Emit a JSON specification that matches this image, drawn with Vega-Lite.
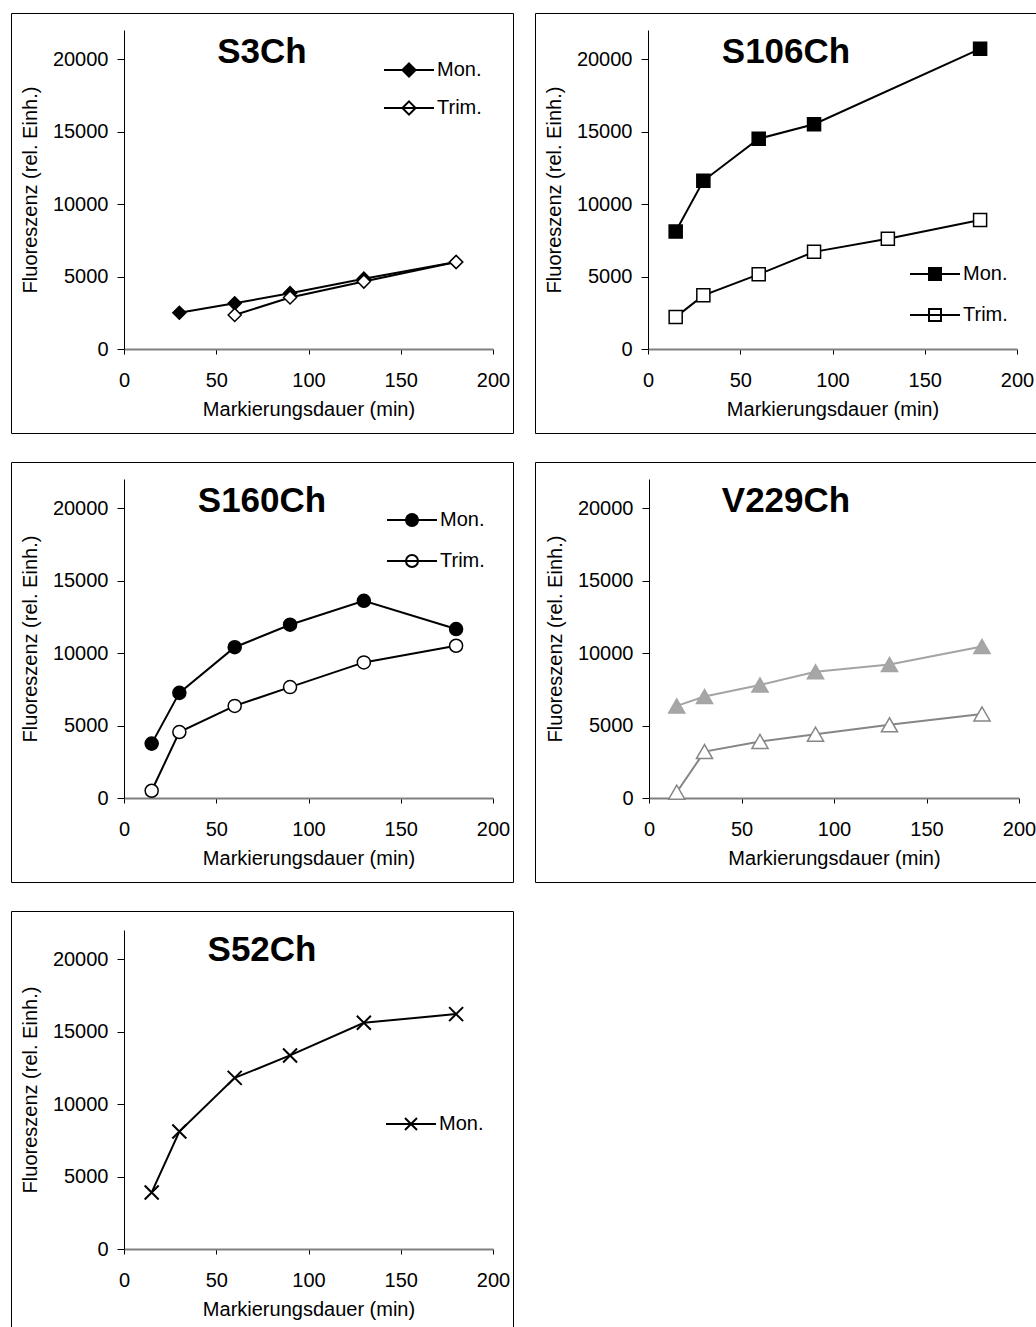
{
  "$schema": "https://vega.github.io/schema/vega-lite/v6.json",
  "background": "white",
  "padding": {"left": 10, "top": 12, "right": 0, "bottom": 0},
  "columns": 2,
  "spacing": {"row": 27, "column": 20},
  "resolve": {
    "scale": {"x": "independent", "y": "independent", "fill": "independent", "stroke": "independent"},
    "legend": {"fill": "independent", "stroke": "independent"}
  },
  "data": {
    "values": [
      {"p": "S3Ch", "s": "Mon.", "t": 30, "f": 2500},
      {"p": "S3Ch", "s": "Mon.", "t": 60, "f": 3150},
      {"p": "S3Ch", "s": "Mon.", "t": 90, "f": 3850},
      {"p": "S3Ch", "s": "Mon.", "t": 130, "f": 4850},
      {"p": "S3Ch", "s": "Mon.", "t": 180, "f": 6000},
      {"p": "S3Ch", "s": "Trim.", "t": 60, "f": 2350},
      {"p": "S3Ch", "s": "Trim.", "t": 90, "f": 3550},
      {"p": "S3Ch", "s": "Trim.", "t": 130, "f": 4650},
      {"p": "S3Ch", "s": "Trim.", "t": 180, "f": 6000},
      {"p": "S106Ch", "s": "Mon.", "t": 15, "f": 8100},
      {"p": "S106Ch", "s": "Mon.", "t": 30, "f": 11600},
      {"p": "S106Ch", "s": "Mon.", "t": 60, "f": 14500},
      {"p": "S106Ch", "s": "Mon.", "t": 90, "f": 15500},
      {"p": "S106Ch", "s": "Mon.", "t": 180, "f": 20700},
      {"p": "S106Ch", "s": "Trim.", "t": 15, "f": 2200},
      {"p": "S106Ch", "s": "Trim.", "t": 30, "f": 3700},
      {"p": "S106Ch", "s": "Trim.", "t": 60, "f": 5150},
      {"p": "S106Ch", "s": "Trim.", "t": 90, "f": 6700},
      {"p": "S106Ch", "s": "Trim.", "t": 130, "f": 7600},
      {"p": "S106Ch", "s": "Trim.", "t": 180, "f": 8900},
      {"p": "S160Ch", "s": "Mon.", "t": 15, "f": 3750},
      {"p": "S160Ch", "s": "Mon.", "t": 30, "f": 7250},
      {"p": "S160Ch", "s": "Mon.", "t": 60, "f": 10400},
      {"p": "S160Ch", "s": "Mon.", "t": 90, "f": 11950},
      {"p": "S160Ch", "s": "Mon.", "t": 130, "f": 13600},
      {"p": "S160Ch", "s": "Mon.", "t": 180, "f": 11650},
      {"p": "S160Ch", "s": "Trim.", "t": 15, "f": 500},
      {"p": "S160Ch", "s": "Trim.", "t": 30, "f": 4550},
      {"p": "S160Ch", "s": "Trim.", "t": 60, "f": 6350},
      {"p": "S160Ch", "s": "Trim.", "t": 90, "f": 7650},
      {"p": "S160Ch", "s": "Trim.", "t": 130, "f": 9350},
      {"p": "S160Ch", "s": "Trim.", "t": 180, "f": 10500},
      {"p": "V229Ch", "s": "Mon.", "t": 15, "f": 6350},
      {"p": "V229Ch", "s": "Mon.", "t": 30, "f": 7000},
      {"p": "V229Ch", "s": "Mon.", "t": 60, "f": 7800},
      {"p": "V229Ch", "s": "Mon.", "t": 90, "f": 8700},
      {"p": "V229Ch", "s": "Mon.", "t": 130, "f": 9200},
      {"p": "V229Ch", "s": "Mon.", "t": 180, "f": 10450},
      {"p": "V229Ch", "s": "Trim.", "t": 15, "f": 400},
      {"p": "V229Ch", "s": "Trim.", "t": 30, "f": 3200},
      {"p": "V229Ch", "s": "Trim.", "t": 60, "f": 3900},
      {"p": "V229Ch", "s": "Trim.", "t": 90, "f": 4400},
      {"p": "V229Ch", "s": "Trim.", "t": 130, "f": 5050},
      {"p": "V229Ch", "s": "Trim.", "t": 180, "f": 5800},
      {"p": "S52Ch", "s": "Mon.", "t": 15, "f": 3900},
      {"p": "S52Ch", "s": "Mon.", "t": 30, "f": 8100},
      {"p": "S52Ch", "s": "Mon.", "t": 60, "f": 11800},
      {"p": "S52Ch", "s": "Mon.", "t": 90, "f": 13350},
      {"p": "S52Ch", "s": "Mon.", "t": 130, "f": 15600},
      {"p": "S52Ch", "s": "Mon.", "t": 180, "f": 16200}
    ]
  },
  "concat": [
    {
      "width": 502, "height": 420,
      "title": {"text": "S3Ch", "fontSize": 35, "fontWeight": "bold", "anchor": "middle", "offset": 0, "baseline": "alphabetic", "dy": 85, "color": "black"},
      "transform": [{"filter": "datum.p === 'S3Ch'"}],
      "encoding": {
        "x": {"field": "t", "type": "quantitative", "scale": {"domain": [0, 200], "range": [113, 482], "nice": false, "zero": false},
          "axis": {"title": "Markierungsdauer (min)", "values": [0, 50, 100, 150, 200], "offset": -84, "grid": false, "domainColor": "#808080", "domainWidth": 2, "tickColor": "black", "tickSize": 5, "labelPadding": 16, "labelFontSize": 20, "titleFontSize": 20, "titleFontWeight": "normal", "titlePadding": 9, "labelColor": "black", "titleColor": "black", "labelFlush": false, "labelOverlap": false}},
        "y": {"field": "f", "type": "quantitative", "scale": {"domain": [0, 22000], "range": [336, 17], "nice": false},
          "axis": {"title": "Fluoreszenz (rel. Einh.)", "values": [0, 5000, 10000, 15000, 20000], "format": "d", "offset": -113, "grid": false, "domainColor": "black", "domainWidth": 1, "tickColor": "black", "tickSize": 7, "labelPadding": 9, "labelFontSize": 20, "titleFontSize": 20, "titleFontWeight": "normal", "titlePadding": 12, "labelColor": "black", "titleColor": "black", "labelFlush": false, "labelOverlap": false}}
      },
      "layer": [
        {"mark": {"type": "line", "color": "black", "strokeWidth": 2}, "encoding": {"detail": {"field": "s"}}},
        {"mark": {"type": "point", "shape": "diamond", "size": 169, "stroke": "black", "strokeWidth": 1.5, "opacity": 1},
          "encoding": {"fill": {"field": "s", "type": "nominal", "scale": {"domain": ["Mon.", "Trim."], "range": ["black", "white"]},
            "legend": {"orient": "none", "legendX": 377, "legendY": 36, "title": null, "symbolType": "M-1.25,0H1.25M0,-0.33L0.33,0L0,0.33L-0.33,0Z", "symbolSize": 1600, "symbolStrokeColor": "black", "symbolStrokeWidth": 2, "labelFontSize": 20, "labelColor": "black", "labelOffset": 7, "rowPadding": 6, "padding": 0, "symbolOffset": 0,
              "encode": {"symbols": {"update": {"shape": {"value": "M-1.25,0H1.25M0,-0.33L0.33,0L0,0.33L-0.33,0Z"}}}}}}}}
      ]
    },
    {
      "width": 502, "height": 420,
      "title": {"text": "S106Ch", "fontSize": 35, "fontWeight": "bold", "anchor": "middle", "offset": 0, "baseline": "alphabetic", "dy": 85, "color": "black"},
      "transform": [{"filter": "datum.p === 'S106Ch'"}],
      "encoding": {
        "x": {"field": "t", "type": "quantitative", "scale": {"domain": [0, 200], "range": [113, 482], "nice": false, "zero": false},
          "axis": {"title": "Markierungsdauer (min)", "values": [0, 50, 100, 150, 200], "offset": -84, "grid": false, "domainColor": "#808080", "domainWidth": 2, "tickColor": "black", "tickSize": 5, "labelPadding": 16, "labelFontSize": 20, "titleFontSize": 20, "titleFontWeight": "normal", "titlePadding": 9, "labelColor": "black", "titleColor": "black", "labelFlush": false, "labelOverlap": false}},
        "y": {"field": "f", "type": "quantitative", "scale": {"domain": [0, 22000], "range": [336, 17], "nice": false},
          "axis": {"title": "Fluoreszenz (rel. Einh.)", "values": [0, 5000, 10000, 15000, 20000], "format": "d", "offset": -113, "grid": false, "domainColor": "black", "domainWidth": 1, "tickColor": "black", "tickSize": 7, "labelPadding": 9, "labelFontSize": 20, "titleFontSize": 20, "titleFontWeight": "normal", "titlePadding": 12, "labelColor": "black", "titleColor": "black", "labelFlush": false, "labelOverlap": false}}
      },
      "layer": [
        {"mark": {"type": "line", "color": "black", "strokeWidth": 2}, "encoding": {"detail": {"field": "s"}}},
        {"mark": {"type": "point", "shape": "square", "size": 170, "stroke": "black", "strokeWidth": 1.5, "opacity": 1},
          "encoding": {"fill": {"field": "s", "type": "nominal", "scale": {"domain": ["Mon.", "Trim."], "range": ["black", "white"]},
            "legend": {"orient": "none", "legendX": 379, "legendY": 240, "title": null, "symbolType": "M-1.25,0H1.25M-0.3,-0.3H0.3V0.3H-0.3Z", "symbolSize": 1600, "symbolStrokeColor": "black", "symbolStrokeWidth": 2, "labelFontSize": 20, "labelColor": "black", "labelOffset": 7, "rowPadding": 10, "padding": 0, "symbolOffset": 0,
              "encode": {"symbols": {"update": {"shape": {"value": "M-1.25,0H1.25M-0.3,-0.3H0.3V0.3H-0.3Z"}}}}}}}}
      ]
    },
    {
      "width": 502, "height": 420,
      "title": {"text": "S160Ch", "fontSize": 35, "fontWeight": "bold", "anchor": "middle", "offset": 0, "baseline": "alphabetic", "dy": 85, "color": "black"},
      "transform": [{"filter": "datum.p === 'S160Ch'"}],
      "encoding": {
        "x": {"field": "t", "type": "quantitative", "scale": {"domain": [0, 200], "range": [113, 482], "nice": false, "zero": false},
          "axis": {"title": "Markierungsdauer (min)", "values": [0, 50, 100, 150, 200], "offset": -84, "grid": false, "domainColor": "#808080", "domainWidth": 2, "tickColor": "black", "tickSize": 5, "labelPadding": 16, "labelFontSize": 20, "titleFontSize": 20, "titleFontWeight": "normal", "titlePadding": 9, "labelColor": "black", "titleColor": "black", "labelFlush": false, "labelOverlap": false}},
        "y": {"field": "f", "type": "quantitative", "scale": {"domain": [0, 22000], "range": [336, 17], "nice": false},
          "axis": {"title": "Fluoreszenz (rel. Einh.)", "values": [0, 5000, 10000, 15000, 20000], "format": "d", "offset": -113, "grid": false, "domainColor": "black", "domainWidth": 1, "tickColor": "black", "tickSize": 7, "labelPadding": 9, "labelFontSize": 20, "titleFontSize": 20, "titleFontWeight": "normal", "titlePadding": 12, "labelColor": "black", "titleColor": "black", "labelFlush": false, "labelOverlap": false}}
      },
      "layer": [
        {"mark": {"type": "line", "color": "black", "strokeWidth": 2}, "encoding": {"detail": {"field": "s"}}},
        {"mark": {"type": "point", "shape": "circle", "size": 170, "stroke": "black", "strokeWidth": 1.5, "opacity": 1},
          "encoding": {"fill": {"field": "s", "type": "nominal", "scale": {"domain": ["Mon.", "Trim."], "range": ["black", "white"]},
            "legend": {"orient": "none", "legendX": 380, "legendY": 37, "title": null, "symbolType": "M-1.25,0H1.25M0.3,0A0.3,0.3,0,1,1,-0.3,0A0.3,0.3,0,1,1,0.3,0", "symbolSize": 1600, "symbolStrokeColor": "black", "symbolStrokeWidth": 2, "labelFontSize": 20, "labelColor": "black", "labelOffset": 7, "rowPadding": 10, "padding": 0, "symbolOffset": 0,
              "encode": {"symbols": {"update": {"shape": {"value": "M-1.25,0H1.25M0.3,0A0.3,0.3,0,1,1,-0.3,0A0.3,0.3,0,1,1,0.3,0"}}}}}}}}
      ]
    },
    {
      "width": 502, "height": 420,
      "title": {"text": "V229Ch", "fontSize": 35, "fontWeight": "bold", "anchor": "middle", "offset": 0, "baseline": "alphabetic", "dy": 85, "color": "black"},
      "transform": [{"filter": "datum.p === 'V229Ch'"}],
      "encoding": {
        "x": {"field": "t", "type": "quantitative", "scale": {"domain": [0, 200], "range": [114, 484], "nice": false, "zero": false},
          "axis": {"title": "Markierungsdauer (min)", "values": [0, 50, 100, 150, 200], "offset": -84, "grid": false, "domainColor": "#808080", "domainWidth": 2, "tickColor": "black", "tickSize": 5, "labelPadding": 16, "labelFontSize": 20, "titleFontSize": 20, "titleFontWeight": "normal", "titlePadding": 9, "labelColor": "black", "titleColor": "black", "labelFlush": false, "labelOverlap": false}},
        "y": {"field": "f", "type": "quantitative", "scale": {"domain": [0, 22000], "range": [336, 17], "nice": false},
          "axis": {"title": "Fluoreszenz (rel. Einh.)", "values": [0, 5000, 10000, 15000, 20000], "format": "d", "offset": -114, "grid": false, "domainColor": "black", "domainWidth": 1, "tickColor": "black", "tickSize": 7, "labelPadding": 9, "labelFontSize": 20, "titleFontSize": 20, "titleFontWeight": "normal", "titlePadding": 12, "labelColor": "black", "titleColor": "black", "labelFlush": false, "labelOverlap": false}}
      },
      "layer": [
        {"mark": {"type": "line", "strokeWidth": 2},
          "encoding": {"stroke": {"field": "s", "type": "nominal", "scale": {"domain": ["Mon.", "Trim."], "range": ["#a4a4a4", "#868686"]}, "legend": null}}},
        {"mark": {"type": "point", "shape": "triangle-up", "size": 260, "strokeWidth": 1.5, "opacity": 1},
          "encoding": {
            "stroke": {"field": "s", "type": "nominal", "scale": {"domain": ["Mon.", "Trim."], "range": ["#a4a4a4", "#868686"]}, "legend": null},
            "fill": {"field": "s", "type": "nominal", "scale": {"domain": ["Mon.", "Trim."], "range": ["#a6a6a6", "white"]},
            "legend": {"orient": "none", "legendX": 381, "legendY": 39, "title": null, "symbolType": "M-1.25,0H1.25M0,-0.38L0.38,0.28H-0.38Z", "symbolSize": 1600, "symbolStrokeColor": "#8e8e8e", "symbolStrokeWidth": 2, "labelFontSize": 20, "labelColor": "black", "labelOffset": 7, "rowPadding": 10, "padding": 0, "symbolOffset": 0,
              "encode": {"symbols": {"update": {"shape": {"value": "M-1.25,0H1.25M0,-0.38L0.38,0.28H-0.38Z"}, "stroke": {"value": "#8e8e8e"}}}}}}}}
      ]
    },
    {
      "width": 502, "height": 420,
      "title": {"text": "S52Ch", "fontSize": 35, "fontWeight": "bold", "anchor": "middle", "offset": 0, "baseline": "alphabetic", "dy": 85, "color": "black"},
      "transform": [{"filter": "datum.p === 'S52Ch'"}],
      "encoding": {
        "x": {"field": "t", "type": "quantitative", "scale": {"domain": [0, 200], "range": [113, 482], "nice": false, "zero": false},
          "axis": {"title": "Markierungsdauer (min)", "values": [0, 50, 100, 150, 200], "offset": -82, "grid": false, "domainColor": "#808080", "domainWidth": 2, "tickColor": "black", "tickSize": 5, "labelPadding": 16, "labelFontSize": 20, "titleFontSize": 20, "titleFontWeight": "normal", "titlePadding": 9, "labelColor": "black", "titleColor": "black", "labelFlush": false, "labelOverlap": false}},
        "y": {"field": "f", "type": "quantitative", "scale": {"domain": [0, 22000], "range": [338, 19], "nice": false},
          "axis": {"title": "Fluoreszenz (rel. Einh.)", "values": [0, 5000, 10000, 15000, 20000], "format": "d", "offset": -113, "grid": false, "domainColor": "black", "domainWidth": 1, "tickColor": "black", "tickSize": 7, "labelPadding": 9, "labelFontSize": 20, "titleFontSize": 20, "titleFontWeight": "normal", "titlePadding": 12, "labelColor": "black", "titleColor": "black", "labelFlush": false, "labelOverlap": false}}
      },
      "layer": [
        {"mark": {"type": "line", "color": "black", "strokeWidth": 2}, "encoding": {"detail": {"field": "s"}}},
        {"mark": {"type": "point", "shape": "M-1,-1L1,1M-1,1L1,-1", "size": 196, "stroke": "black", "strokeWidth": 2, "opacity": 1},
          "encoding": {"fill": {"field": "s", "type": "nominal", "scale": {"domain": ["Mon."], "range": ["black"]},
            "legend": {"orient": "none", "legendX": 379, "legendY": 192, "title": null, "symbolType": "M-1.25,0H1.25M-0.3,-0.3L0.3,0.3M-0.3,0.3L0.3,-0.3", "symbolSize": 1600, "symbolStrokeColor": "black", "symbolStrokeWidth": 2, "labelFontSize": 20, "labelColor": "black", "labelOffset": 7, "rowPadding": 10, "padding": 0, "symbolOffset": 0,
              "encode": {"symbols": {"update": {"shape": {"value": "M-1.25,0H1.25M-0.3,-0.3L0.3,0.3M-0.3,0.3L0.3,-0.3"}}}}}}}}
      ]
    }
  ],
  "config": {
    "font": "Liberation Sans",
    "view": {"stroke": "black", "strokeWidth": 1},
    "axis": {"labelFont": "Liberation Sans", "titleFont": "Liberation Sans"},
    "legend": {"labelFont": "Liberation Sans"},
    "title": {"font": "Liberation Sans"}
  }
}
